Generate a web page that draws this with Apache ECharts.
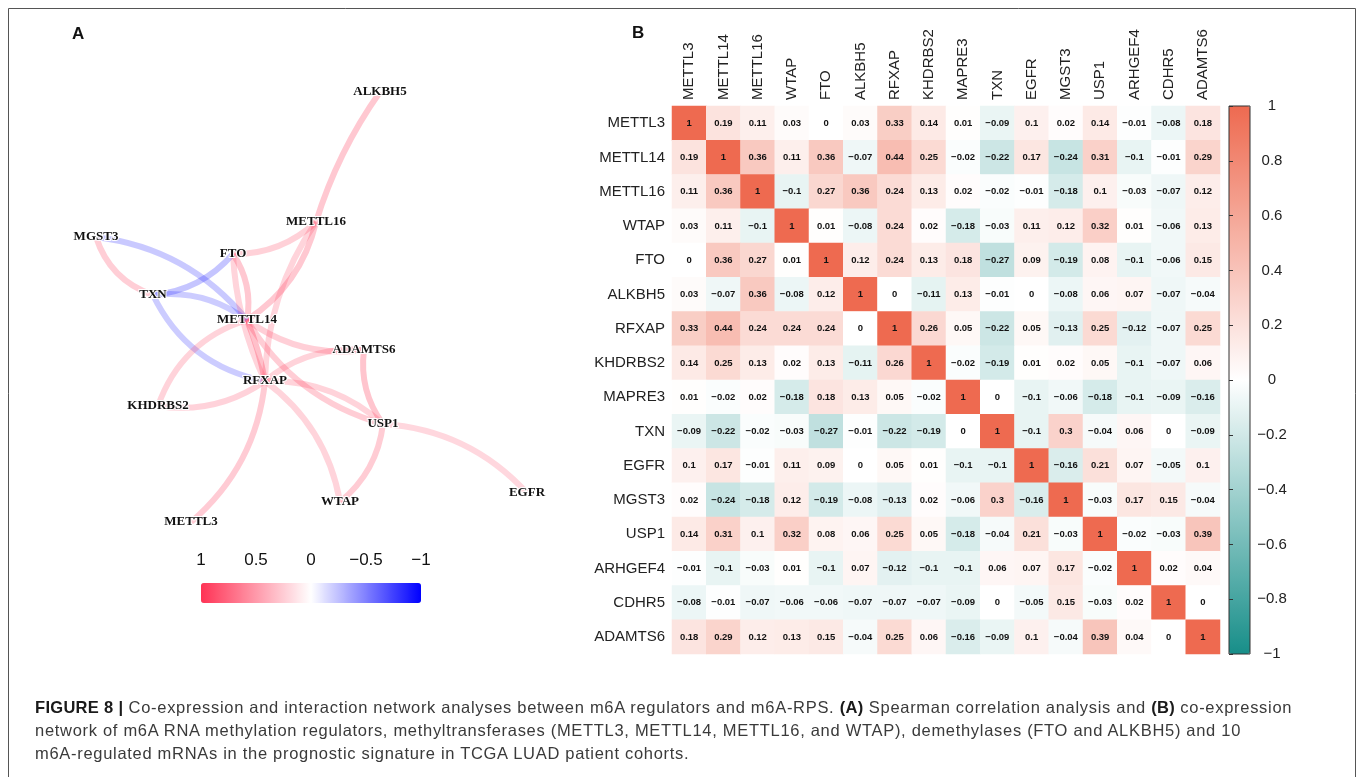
<!DOCTYPE html>
<html>
<head>
<meta charset="utf-8">
<title>Figure 8</title>
<script src="https://cdn.jsdelivr.net/npm/echarts@6/dist/echarts.min.js"></script>
<style>
  body { margin: 0; background: #fff; }
  #wrap { position: relative; width: 1360px; height: 777px; overflow: hidden; }
  #main { position: absolute; left: 0; top: 0; width: 1360px; height: 777px; }
  #caption {
    position: absolute; left: 35px; top: 696px; width: 1310px;
    font-family: "Liberation Sans", Arial, sans-serif; font-size: 16.5px; letter-spacing: 0.7px;
    line-height: 23px; color: #3a3a3a; white-space: nowrap;
  }
  #caption b { color: #1a1a1a; letter-spacing: 0.3px; }
</style>
</head>
<body>
<div id="wrap">
  <div id="main"></div>
  <div id="caption">
    <b>FIGURE 8 |</b> Co-expression and interaction network analyses between m6A regulators and m6A-RPS. <b>(A)</b> Spearman correlation analysis and <b>(B)</b> co-expression<br>
    network of m6A RNA methylation regulators, methyltransferases (METTL3, METTL14, METTL16, and WTAP), demethylases (FTO and ALKBH5) and 10<br>
    m6A-regulated mRNAs in the prognostic signature in TCGA LUAD patient cohorts.
  </div>
</div>
<script>
// genes in the correlation matrix (rows and columns)
const genes = ['METTL3','METTL14','METTL16','WTAP','FTO','ALKBH5','RFXAP','KHDRBS2',
               'MAPRE3','TXN','EGFR','MGST3','USP1','ARHGEF4','CDHR5','ADAMTS6'];

// Spearman correlation, one row per gene
const corMETTL3  = [1, 0.19, 0.11, 0.03, 0, 0.03, 0.33, 0.14, 0.01, -0.09, 0.1, 0.02, 0.14, -0.01, -0.08, 0.18];
const corMETTL14 = [0.19, 1, 0.36, 0.11, 0.36, -0.07, 0.44, 0.25, -0.02, -0.22, 0.17, -0.24, 0.31, -0.1, -0.01, 0.29];
const corMETTL16 = [0.11, 0.36, 1, -0.1, 0.27, 0.36, 0.24, 0.13, 0.02, -0.02, -0.01, -0.18, 0.1, -0.03, -0.07, 0.12];
const corWTAP    = [0.03, 0.11, -0.1, 1, 0.01, -0.08, 0.24, 0.02, -0.18, -0.03, 0.11, 0.12, 0.32, 0.01, -0.06, 0.13];
const corFTO     = [0, 0.36, 0.27, 0.01, 1, 0.12, 0.24, 0.13, 0.18, -0.27, 0.09, -0.19, 0.08, -0.1, -0.06, 0.15];
const corALKBH5  = [0.03, -0.07, 0.36, -0.08, 0.12, 1, 0, -0.11, 0.13, -0.01, 0, -0.08, 0.06, 0.07, -0.07, -0.04];
const corRFXAP   = [0.33, 0.44, 0.24, 0.24, 0.24, 0, 1, 0.26, 0.05, -0.22, 0.05, -0.13, 0.25, -0.12, -0.07, 0.25];
const corKHDRBS2 = [0.14, 0.25, 0.13, 0.02, 0.13, -0.11, 0.26, 1, -0.02, -0.19, 0.01, 0.02, 0.05, -0.1, -0.07, 0.06];
const corMAPRE3  = [0.01, -0.02, 0.02, -0.18, 0.18, 0.13, 0.05, -0.02, 1, 0, -0.1, -0.06, -0.18, -0.1, -0.09, -0.16];
const corTXN     = [-0.09, -0.22, -0.02, -0.03, -0.27, -0.01, -0.22, -0.19, 0, 1, -0.1, 0.3, -0.04, 0.06, 0, -0.09];
const corEGFR    = [0.1, 0.17, -0.01, 0.11, 0.09, 0, 0.05, 0.01, -0.1, -0.1, 1, -0.16, 0.21, 0.07, -0.05, 0.1];
const corMGST3   = [0.02, -0.24, -0.18, 0.12, -0.19, -0.08, -0.13, 0.02, -0.06, 0.3, -0.16, 1, -0.03, 0.17, 0.15, -0.04];
const corUSP1    = [0.14, 0.31, 0.1, 0.32, 0.08, 0.06, 0.25, 0.05, -0.18, -0.04, 0.21, -0.03, 1, -0.02, -0.03, 0.39];
const corARHGEF4 = [-0.01, -0.1, -0.03, 0.01, -0.1, 0.07, -0.12, -0.1, -0.1, 0.06, 0.07, 0.17, -0.02, 1, 0.02, 0.04];
const corCDHR5   = [-0.08, -0.01, -0.07, -0.06, -0.06, -0.07, -0.07, -0.07, -0.09, 0, -0.05, 0.15, -0.03, 0.02, 1, 0];
const corADAMTS6 = [0.18, 0.29, 0.12, 0.13, 0.15, -0.04, 0.25, 0.06, -0.16, -0.09, 0.1, -0.04, 0.39, 0.04, 0, 1];

const corRows = [corMETTL3, corMETTL14, corMETTL16, corWTAP, corFTO, corALKBH5, corRFXAP, corKHDRBS2,
                 corMAPRE3, corTXN, corEGFR, corMGST3, corUSP1, corARHGEF4, corCDHR5, corADAMTS6];

// network panel: genes shown and where the layout put them
const netNodes = ['ALKBH5','METTL16','MGST3','FTO','TXN','METTL14','ADAMTS6','RFXAP','KHDRBS2','USP1','EGFR','WTAP','METTL3'];
const netX     = [380, 316, 96, 233, 153, 247, 364, 265, 158, 383, 527, 340, 191];
const netY     = [92, 222, 237, 254, 295, 320, 350, 381, 406, 424, 493, 502, 522];
const netCut = 0.2;   // edges drawn for |r| >= this

// which way each edge bends (style only)
const bend = {
  'ALKBH5-METTL16': -0.08, 'METTL16-FTO': 0.2, 'METTL16-METTL14': 0.2, 'METTL16-RFXAP': -0.15,
  'MGST3-TXN': -0.25, 'MGST3-METTL14': 0.2, 'FTO-TXN': 0.2, 'FTO-METTL14': 0.2, 'FTO-RFXAP': -0.1,
  'TXN-METTL14': 0.2, 'TXN-RFXAP': -0.25, 'METTL14-ADAMTS6': -0.2, 'METTL14-RFXAP': 0.05,
  'METTL14-KHDRBS2': -0.25, 'METTL14-USP1': -0.2, 'ADAMTS6-RFXAP': -0.2, 'ADAMTS6-USP1': -0.2,
  'RFXAP-KHDRBS2': 0.2, 'RFXAP-USP1': 0.2, 'RFXAP-WTAP': 0.2, 'RFXAP-METTL3': 0.2,
  'USP1-EGFR': 0.2, 'USP1-WTAP': 0.2
};

// tick labels
const heatTicks = [-1, -0.8, -0.6, -0.4, -0.2, 0, 0.2, 0.4, 0.6, 0.8, 1];
const netTicks = [1, 0.5, 0, -0.5, -1];

const fmt = v => {
  const s = String(Math.round(v * 100) / 100);
  return s.replace('-', '\u2212');
};

// heatmap cells
const heatData = [];
corRows.forEach((row, i) => row.forEach((v, j) => heatData.push([j, i, v])));

// network edges from the matrix
const links = [];
for (let a = 0; a < netNodes.length; a++) {
  for (let b = a + 1; b < netNodes.length; b++) {
    const r = corRows[genes.indexOf(netNodes[a])][genes.indexOf(netNodes[b])];
    if (Math.abs(r) >= netCut) {
      const c = r > 0 ? '255,51,85' : '0,0,255';
      const key = netNodes[a] + '-' + netNodes[b];
      links.push({
        source: netNodes[a], target: netNodes[b], value: r,
        lineStyle: { color: 'rgba(' + c + ',' + Math.min(1, 0.18 + Math.abs(r)).toFixed(2) + ')',
                     width: 6, curveness: bend[key] !== undefined ? bend[key] : 0.2 }
      });
    }
  }
}

const nodes = netNodes.map((n, i) => ({ name: n, value: [netX[i], netY[i]] }));

var myChart = echarts.init(document.getElementById('main'));
var option = {
  animation: false,
  grid: [
    { left: 0, top: 0, width: 600, height: 777 },                      // network
    { left: 672, top: 106, width: 548, height: 548 },                  // heatmap
    { left: 1229, top: 106, width: 21, height: 548, show: true, z: 10,
      backgroundColor: 'transparent', borderColor: '#333', borderWidth: 1 }, // colour bar B
    { left: 201, top: 583, width: 220, height: 20 }                    // colour bar A
  ],
  xAxis: [
    { gridIndex: 0, type: 'value', min: 0, max: 600, show: false },
    { gridIndex: 1, type: 'category', data: genes, position: 'top',
      axisLine: { show: false }, axisTick: { show: false }, splitLine: { show: false },
      axisLabel: { rotate: -90, margin: 6, fontSize: 15, color: '#222', fontFamily: 'Liberation Sans' } },
    { gridIndex: 2, type: 'value', show: false, min: 0, max: 1 },
    { gridIndex: 3, type: 'value', min: -1, max: 1, interval: 0.5, inverse: true, position: 'top',
      axisLine: { show: false }, axisTick: { show: false }, splitLine: { show: false },
      axisLabel: { margin: 14, fontSize: 17, color: '#111', fontFamily: 'Liberation Sans', formatter: fmt } }
  ],
  yAxis: [
    { gridIndex: 0, type: 'value', min: 0, max: 777, inverse: true, show: false },
    { gridIndex: 1, type: 'category', data: genes, inverse: true,
      axisLine: { show: false }, axisTick: { show: false }, splitLine: { show: false },
      axisLabel: { margin: 7, fontSize: 15, color: '#222', fontFamily: 'Liberation Sans' } },
    { gridIndex: 2, type: 'value', min: -1, max: 1, interval: 0.2, position: 'right', z: 10,
      axisLine: { show: false }, splitLine: { show: false },
      axisTick: { show: true, length: 4, lineStyle: { color: '#333' } },
      axisLabel: { margin: 22, align: 'center', fontSize: 15, color: '#222', fontFamily: 'Liberation Sans', formatter: fmt } },
    { gridIndex: 3, type: 'value', show: false }
  ],
  visualMap: [
    { type: 'continuous', seriesIndex: 1, min: -1, max: 1, orient: 'vertical',
      left: 1229, top: 106, itemWidth: 21, itemHeight: 548, padding: 0,
      calculable: false, hoverLink: false, text: null,
      inRange: { color: ['#178E89', '#FFFFFF', '#EE6A50'] } },
    { type: 'continuous', seriesIndex: 2, min: -1, max: 1, orient: 'horizontal', inverse: true,
      left: 201, top: 583, itemWidth: 20, itemHeight: 220, padding: 0,
      calculable: false, hoverLink: false, text: null,
      inRange: { color: ['#0000FF', '#FFFFFF', '#FF3355'] } }
  ],
  graphic: [
    { type: 'rect', shape: { x: 8.5, y: 8.5, width: 1347, height: 800 },
      style: { fill: 'none', stroke: '#555', lineWidth: 1 }, silent: true },
    { type: 'text', left: 72, top: 26,
      style: { text: 'A', font: 'bold 17px "Liberation Sans"', fill: '#111' } },
    { type: 'text', left: 632, top: 25,
      style: { text: 'B', font: 'bold 17px "Liberation Sans"', fill: '#111' } }
  ],
  series: [
    {
      type: 'graph', coordinateSystem: 'cartesian2d', xAxisIndex: 0, yAxisIndex: 0,
      data: nodes, links: links,
      symbolSize: 1, itemStyle: { color: 'rgba(0,0,0,0)' },
      label: { show: true, position: 'inside', fontFamily: 'Liberation Serif', fontWeight: 'bold',
               fontSize: 13, color: '#111', textBorderColor: '#fff', textBorderWidth: 2 },
      emphasis: { disabled: true }
    },
    {
      type: 'heatmap', xAxisIndex: 1, yAxisIndex: 1, data: heatData,
      label: { show: true, fontSize: 9.5, fontWeight: 'bold', color: '#111', fontFamily: 'Liberation Sans',
               formatter: p => fmt(p.value[2]) },
      emphasis: { disabled: true }
    },
    { type: 'scatter', xAxisIndex: 3, yAxisIndex: 3, data: [] }
  ]
};
myChart.setOption(option);
</script>
</body>
</html>
